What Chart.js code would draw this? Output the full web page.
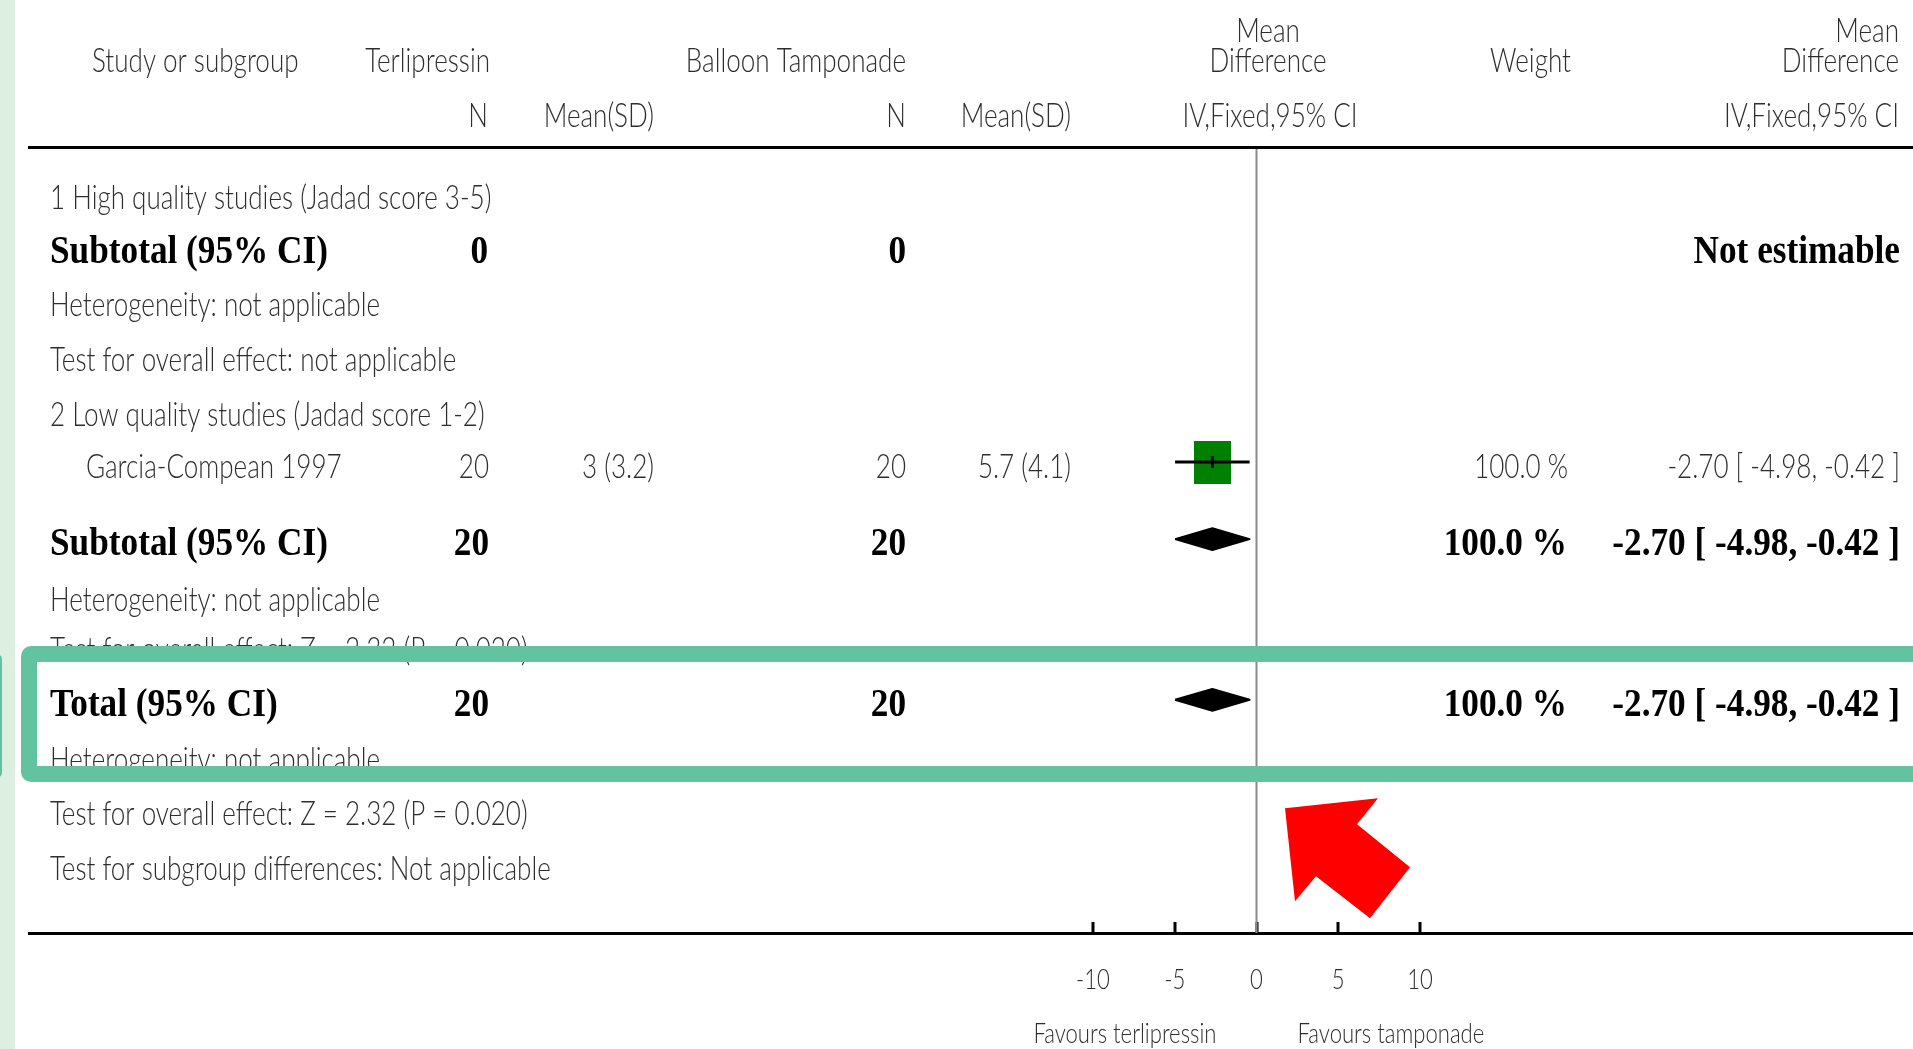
<!DOCTYPE html>
<html>
<head>
<meta charset="utf-8">
<title>Terlipressin versus balloon tamponade</title>
<script src="https://cdn.jsdelivr.net/npm/chart.js@4.4.1/dist/chart.umd.min.js"></script>
<style>
  html, body { margin: 0; padding: 0; background: #fff; overflow: hidden; }
  canvas { display: block; }
</style>
</head>
<body>
<canvas id="forest" width="1913" height="1049"></canvas>
<script>
// --- study data ---
const studyNames = ['Garcia-Compean 1997'];
const terliN = [20];
const terliMean = [3];
const terliSD = [3.2];
const tampN = [20];
const tampMean = [5.7];
const tampSD = [4.1];
const studyMD = [-2.70];
const studyLow = [-4.98];
const studyHigh = [-0.42];
const studyWeight = [100.0];

// --- subgroups ---
const subgroupNames = ['1 High quality studies (Jadad score 3-5)', '2 Low quality studies (Jadad score 1-2)'];
const subgroupTerliN = [0, 20];
const subgroupTampN = [0, 20];
const subgroupMD = [null, -2.70];
const subgroupLow = [null, -4.98];
const subgroupHigh = [null, -0.42];
const subgroupWeight = [null, 100.0];
const subgroupEffect = ['not applicable', 'Z = 2.32 (P = 0.020)'];

// --- pooled total ---
const totalN = [20, 20];               // terlipressin, tamponade
const totalMD = [-2.70, -4.98, -0.42]; // estimate, low, high
const totalWeight = [100.0];
const totalEffect = ['Z = 2.32 (P = 0.020)'];

// --- axis ---
const xTicks = [-10, -5, 0, 5, 10];
const groupLabels = ['Terlipressin', 'Balloon Tamponade'];
const favourLabels = ['Favours terlipressin', 'Favours tamponade'];

// vertical layout, in row units (0 = top rule)
const ROW = {
  high: 0.81, sub1: 1.80, het1: 2.77, test1: 3.78, low: 4.79, study: 5.745,
  sub2: 7.16, het2: 8.19, test2: 9.10, total: 10.11, het3: 11.12, testZ: 12.12, subDiff: 13.12
};
const Y_MAX = 14.39;
const DIAMOND_H = 0.2;

const REG_FONT = '300 33px Lato';
const AXIS_FONT = '300 28px Lato';
const BOLD_FONT = 'bold 41px "Liberation Serif"';
const INK = '#2e2e2e';
const BAND = '#63c3a1';

let regSquash = 1;
let boldSquash = 1;

function measureSquash() {
  const c = document.createElement('canvas').getContext('2d');
  c.font = REG_FONT;
  regSquash = 330 / c.measureText('Heterogeneity: not applicable').width;
  c.font = BOLD_FONT;
  boldSquash = 278 / c.measureText('Subtotal (95% CI)').width;
}

function put(ctx, str, x, y, align, kind) {
  ctx.save();
  ctx.font = kind === 'bold' ? BOLD_FONT : (kind === 'axis' ? AXIS_FONT : REG_FONT);
  ctx.fillStyle = kind === 'bold' ? '#000' : INK;
  ctx.textAlign = align;
  ctx.textBaseline = 'alphabetic';
  ctx.translate(x, y);
  ctx.scale(kind === 'bold' ? boldSquash : regSquash, 1);
  ctx.fillText(str, 0, 0);
  ctx.restore();
}

const fmtCI = (m, lo, hi) => `${m.toFixed(2)} [ ${lo.toFixed(2)}, ${hi.toFixed(2)} ]`;
const fmtW = w => `${w.toFixed(1)} %`;

const tablePlugin = {
  id: 'forestTable',
  beforeDraw(chart) {
    const ctx = chart.ctx;
    ctx.save();
    ctx.fillStyle = '#fff';
    ctx.fillRect(0, 0, chart.width, chart.height);
    ctx.fillStyle = '#dcefe1';
    ctx.fillRect(0, 0, 15, chart.height);
    ctx.restore();
  },
  beforeDatasetsDraw(chart) {
    const ctx = chart.ctx;
    const xs = chart.scales.x;
    const ys = chart.scales.y;
    const area = chart.chartArea;
    const base = key => ys.getPixelForValue(ROW[key]) + 16;

    // rules
    ctx.save();
    ctx.fillStyle = '#000';
    ctx.fillRect(28, area.top - 3, chart.width, 3);
    ctx.fillRect(28, area.bottom - 1, chart.width, 3);
    xTicks.forEach(t => {
      const px = Math.round(xs.getPixelForValue(t));
      ctx.fillRect(px - 1.5, area.bottom - 11, 3, 11);
    });
    ctx.restore();

    // axis labels
    xTicks.forEach(t => put(ctx, String(t), xs.getPixelForValue(t), area.bottom + 56, 'center', 'axis'));
    const x0 = xs.getPixelForValue(0);
    put(ctx, favourLabels[0], x0 - 40, area.bottom + 110, 'right', 'axis');
    put(ctx, favourLabels[1], x0 + 41, area.bottom + 110, 'left', 'axis');

    // header
    put(ctx, 'Study or subgroup', 92, 72, 'left');
    put(ctx, groupLabels[0], 490, 72, 'right');
    put(ctx, groupLabels[1], 906, 72, 'right');
    put(ctx, 'Mean', 1268, 42, 'center');
    put(ctx, 'Difference', 1268, 72, 'center');
    put(ctx, 'Weight', 1571, 72, 'right');
    put(ctx, 'Mean', 1899, 42, 'right');
    put(ctx, 'Difference', 1899, 72, 'right');
    put(ctx, 'N', 488, 127, 'right');
    put(ctx, 'Mean(SD)', 654, 127, 'right');
    put(ctx, 'N', 906, 127, 'right');
    put(ctx, 'Mean(SD)', 1071, 127, 'right');
    put(ctx, 'IV,Fixed,95% CI', 1270, 127, 'center');
    put(ctx, 'IV,Fixed,95% CI', 1899, 127, 'right');

    // subgroup 1
    put(ctx, subgroupNames[0], 50, base('high'), 'left');
    put(ctx, 'Subtotal (95% CI)', 50, base('sub1'), 'left', 'bold');
    put(ctx, String(subgroupTerliN[0]), 488, base('sub1'), 'right', 'bold');
    put(ctx, String(subgroupTampN[0]), 906, base('sub1'), 'right', 'bold');
    put(ctx, 'Not estimable', 1900, base('sub1'), 'right', 'bold');
    put(ctx, 'Heterogeneity: not applicable', 50, base('het1'), 'left');
    put(ctx, 'Test for overall effect: ' + subgroupEffect[0], 50, base('test1'), 'left');

    // subgroup 2
    put(ctx, subgroupNames[1], 50, base('low'), 'left');
    studyNames.forEach((name, i) => {
      const b = base('study');
      put(ctx, name, 86, b, 'left');
      put(ctx, String(terliN[i]), 489, b, 'right');
      put(ctx, `${terliMean[i]} (${terliSD[i]})`, 654, b, 'right');
      put(ctx, String(tampN[i]), 906, b, 'right');
      put(ctx, `${tampMean[i]} (${tampSD[i]})`, 1071, b, 'right');
      put(ctx, fmtW(studyWeight[i]), 1568, b, 'right');
      put(ctx, fmtCI(studyMD[i], studyLow[i], studyHigh[i]), 1900, b, 'right');
    });
    put(ctx, 'Subtotal (95% CI)', 50, base('sub2'), 'left', 'bold');
    put(ctx, String(subgroupTerliN[1]), 489, base('sub2'), 'right', 'bold');
    put(ctx, String(subgroupTampN[1]), 906, base('sub2'), 'right', 'bold');
    put(ctx, fmtW(subgroupWeight[1]), 1567, base('sub2'), 'right', 'bold');
    put(ctx, fmtCI(subgroupMD[1], subgroupLow[1], subgroupHigh[1]), 1900, base('sub2'), 'right', 'bold');
    put(ctx, 'Heterogeneity: not applicable', 50, base('het2'), 'left');
    put(ctx, 'Test for overall effect: ' + subgroupEffect[1], 50, base('test2'), 'left');

    // total
    put(ctx, 'Total (95% CI)', 50, base('total'), 'left', 'bold');
    put(ctx, String(totalN[0]), 489, base('total'), 'right', 'bold');
    put(ctx, String(totalN[1]), 906, base('total'), 'right', 'bold');
    put(ctx, fmtW(totalWeight[0]), 1567, base('total'), 'right', 'bold');
    put(ctx, fmtCI(totalMD[0], totalMD[1], totalMD[2]), 1900, base('total'), 'right', 'bold');
    put(ctx, 'Heterogeneity: not applicable', 50, base('het3'), 'left');
    put(ctx, 'Test for overall effect: ' + totalEffect[0], 50, base('testZ'), 'left');
    put(ctx, 'Test for subgroup differences: Not applicable', 50, base('subDiff'), 'left');
  },
  afterDraw(chart) {
    const ctx = chart.ctx;
    const xs = chart.scales.x;
    const ys = chart.scales.y;

    // highlight frame around the total row
    ctx.save();
    ctx.strokeStyle = BAND;
    ctx.lineWidth = 16;
    ctx.beginPath();
    ctx.roundRect(29, 654, chart.width + 40, 120, 2);
    ctx.stroke();
    ctx.fillStyle = BAND;
    ctx.beginPath();
    ctx.roundRect(-10, 655, 12, 122, 4);
    ctx.fill();

    // pointer arrow next to the line of no effect
    const ax = xs.getPixelForValue(0);
    const ay = ys.getPixelForValue(ROW.testZ);
    const arrow = [[28.5, -1], [121.5, -11], [100.5, 15], [153.5, 58], [113.5, 109], [59.5, 67], [38.5, 92]];
    ctx.fillStyle = '#ff0000';
    ctx.beginPath();
    arrow.forEach(([dx, dy], i) => i ? ctx.lineTo(ax + dx, ay + dy) : ctx.moveTo(ax + dx, ay + dy));
    ctx.closePath();
    ctx.fill();
    ctx.restore();
  }
};

function squareMarker(weight) {
  const c = document.createElement('canvas');
  const k = Math.sqrt(weight / 100);
  c.width = Math.round(37 * k);
  c.height = Math.round(43 * k);
  const g = c.getContext('2d');
  g.fillStyle = '#008000';
  g.fillRect(0, 0, c.width, c.height);
  return c;
}

function diamond(md, lo, hi, y) {
  return [
    { x: lo, y: y }, { x: md, y: y - DIAMOND_H }, { x: hi, y: y }, { x: md, y: y + DIAMOND_H }, { x: lo, y: y }
  ];
}

function buildChart() {
  measureSquash();
  const studyRows = studyNames.map(() => ROW.study);
  const datasets = [];

  // point estimate tick
  datasets.push({
    data: studyMD.map((m, i) => ({ x: m, y: studyRows[i] })),
    showLine: false, pointStyle: 'line', pointRotation: 90, pointRadius: 6,
    pointBorderWidth: 3, pointBorderColor: '#000', order: 0
  });
  // confidence intervals
  studyMD.forEach((m, i) => datasets.push({
    data: [{ x: studyLow[i], y: studyRows[i] }, { x: studyHigh[i], y: studyRows[i] }],
    borderColor: '#000', borderWidth: 3, pointRadius: 0, order: 1
  }));
  // weighted squares
  studyMD.forEach((m, i) => datasets.push({
    data: [{ x: m, y: studyRows[i] }],
    showLine: false, pointStyle: squareMarker(studyWeight[i]), pointRadius: 20, order: 2
  }));
  // subgroup and total diamonds
  subgroupMD.forEach((m, i) => {
    if (m === null) return;
    datasets.push({
      data: diamond(m, subgroupLow[i], subgroupHigh[i], ROW.sub2),
      borderColor: '#000', borderWidth: 2, borderJoinStyle: 'round', backgroundColor: '#000',
      fill: 'shape', pointRadius: 0, order: 3
    });
  });
  datasets.push({
    data: diamond(totalMD[0], totalMD[1], totalMD[2], ROW.total),
    borderColor: '#000', borderWidth: 2, borderJoinStyle: 'round', backgroundColor: '#000',
    fill: 'shape', pointRadius: 0, order: 3
  });
  // line of no effect
  datasets.push({
    data: [{ x: 0, y: 0 }, { x: 0, y: Y_MAX }],
    borderColor: '#8a8a8a', borderWidth: 2, pointRadius: 0, order: 5
  });

  new Chart(document.getElementById('forest').getContext('2d'), {
    type: 'line',
    data: { datasets },
    options: {
      responsive: false,
      animation: false,
      devicePixelRatio: 1,
      layout: { padding: { left: 1093, right: 493, top: 149, bottom: 116 } },
      plugins: { legend: { display: false }, tooltip: { enabled: false } },
      elements: { line: { tension: 0 } },
      scales: {
        x: { type: 'linear', min: -10, max: 10, display: false },
        y: { type: 'linear', min: 0, max: Y_MAX, reverse: true, display: false }
      }
    },
    plugins: [tablePlugin]
  });
}

Promise.all([
  document.fonts.load(REG_FONT),
  document.fonts.load(BOLD_FONT)
]).catch(() => {}).then(buildChart);
</script>
</body>
</html>
